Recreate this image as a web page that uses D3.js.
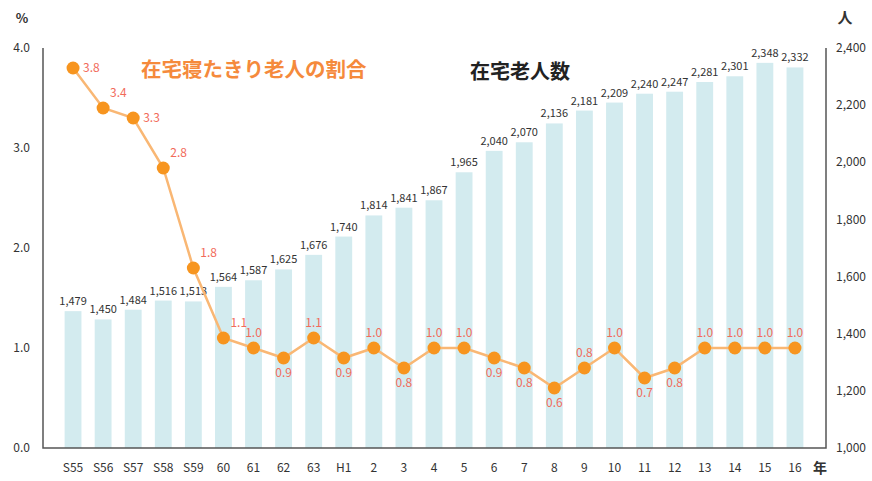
<!DOCTYPE html>
<html>
<head>
<meta charset="utf-8">
<script src="https://cdn.jsdelivr.net/npm/d3@7"></script>
<style>
  body { margin: 0; background: #fff; }
  svg { display: block; font-family: "Noto Sans CJK JP", "Noto Sans", sans-serif; }
</style>
</head>
<body>
<svg id="chart" width="872" height="481"></svg>
<script>
"use strict";

// 年 (Showa 55 .. Heisei 16)
const years = ['S55', 'S56', 'S57', 'S58', 'S59', '60', '61', '62', '63', 'H1',
  '2', '3', '4', '5', '6', '7', '8', '9', '10', '11', '12', '13', '14', '15', '16'];

// 在宅老人数 (人)
const elderly = [1479, 1450, 1484, 1516, 1513, 1564, 1587, 1625, 1676, 1740,
  1814, 1841, 1867, 1965, 2040, 2070, 2136, 2181, 2209, 2240, 2247, 2281, 2301, 2348, 2332];

// 在宅寝たきり老人の割合 (%)
const bedridden = [3.8, 3.4, 3.3, 2.8, 1.8, 1.1, 1.0, 0.9, 1.1, 0.9,
  1.0, 0.8, 1.0, 1.0, 0.9, 0.8, 0.6, 0.8, 1.0, 0.7, 0.8, 1.0, 1.0, 1.0, 1.0];

// where each % label sits relative to its point: r = right, a = above, b = below
const rateLabelPos = ['r', 'ar', 'r', 'ar', 'ar', 'ar', 'a', 'b', 'a', 'b',
  'a', 'b', 'a', 'a', 'b', 'b', 'b', 'a', 'a', 'b', 'b', 'a', 'a', 'a', 'a'];

const leftTicks = [0, 1, 2, 3, 4];
const rightTicks = [1000, 1200, 1400, 1600, 1800, 2000, 2200, 2400];

const svg = d3.select('#chart');

const plot = { left: 43, right: 826, top: 48, bottom: 448 };

const x = d3.scaleBand()
  .domain(years)
  .range([58, 810])
  .paddingInner(0.44)
  .paddingOuter(0.22);

const yRate = d3.scaleLinear().domain([0, 4]).range([plot.bottom, plot.top]);
const yCount = d3.scaleLinear().domain([1000, 2400]).range([plot.bottom, plot.top]);

const cx = (d) => x(d) + x.bandwidth() / 2;

// bars
svg.append('g').selectAll('rect')
  .data(years)
  .enter()
  .append('rect')
  .attr('x', (d) => x(d))
  .attr('y', (d, i) => yCount(elderly[i]))
  .attr('width', x.bandwidth())
  .attr('height', (d, i) => plot.bottom - yCount(elderly[i]))
  .attr('fill', '#d3ebef');

// bar value labels
const fmt = d3.format(',');
svg.append('g').selectAll('text')
  .data(years)
  .enter()
  .append('text')
  .attr('x', (d) => cx(d))
  .attr('y', (d, i) => yCount(elderly[i]) - 6)
  .attr('text-anchor', 'middle')
  .attr('font-size', 11)
  .attr('fill', '#333')
  .text((d, i) => fmt(elderly[i]));

// axes frame
const axisColor = '#555';
svg.append('path')
  .attr('d', 'M' + plot.left + ',' + plot.top + 'V' + plot.bottom + 'H' + plot.right + 'V' + plot.top)
  .attr('fill', 'none')
  .attr('stroke', axisColor)
  .attr('stroke-width', 1.5);

// left axis labels
svg.append('g').selectAll('text')
  .data(leftTicks)
  .enter()
  .append('text')
  .attr('x', 30)
  .attr('y', (d) => yRate(d))
  .attr('dy', '0.35em')
  .attr('text-anchor', 'end')
  .attr('font-size', 12)
  .attr('fill', '#333')
  .text((d) => d3.format('.1f')(d));

// right axis labels
svg.append('g').selectAll('text')
  .data(rightTicks)
  .enter()
  .append('text')
  .attr('x', 836)
  .attr('y', (d) => yCount(d))
  .attr('dy', '0.35em')
  .attr('text-anchor', 'start')
  .attr('font-size', 12)
  .attr('fill', '#333')
  .text((d) => fmt(d));

// x labels
svg.append('g').selectAll('text')
  .data(years)
  .enter()
  .append('text')
  .attr('x', (d) => cx(d))
  .attr('y', 468)
  .attr('dy', '0.35em')
  .attr('text-anchor', 'middle')
  .attr('font-size', 12)
  .attr('fill', '#333')
  .text((d) => d);

// units
svg.append('text').attr('x', 22).attr('y', 18).attr('dy', '0.35em')
  .attr('text-anchor', 'middle').attr('font-size', 13).attr('font-weight', 'bold')
  .attr('fill', '#333').text('%');
svg.append('text').attr('x', 845).attr('y', 18).attr('dy', '0.35em')
  .attr('text-anchor', 'middle').attr('font-size', 15).attr('font-weight', 'bold')
  .attr('fill', '#333').text('人');
svg.append('text').attr('x', 820).attr('y', 468).attr('dy', '0.35em')
  .attr('text-anchor', 'middle').attr('font-size', 14).attr('font-weight', 'bold')
  .attr('fill', '#333').text('年');

// series titles
svg.append('text').attr('x', 141).attr('y', 70).attr('dy', '0.35em')
  .attr('font-size', 20.5).attr('font-weight', 'bold')
  .attr('fill', '#f58a3c').text('在宅寝たきり老人の割合');
svg.append('text').attr('x', 470).attr('y', 72).attr('dy', '0.35em')
  .attr('font-size', 20).attr('font-weight', 'bold')
  .attr('fill', '#222').text('在宅老人数');

// rate line
const line = d3.line()
  .x((d, i) => cx(years[i]))
  .y((d) => yRate(d));

svg.append('path')
  .datum(bedridden)
  .attr('d', line)
  .attr('fill', 'none')
  .attr('stroke', '#f9b774')
  .attr('stroke-width', 2.5);

svg.append('g').selectAll('circle')
  .data(bedridden)
  .enter()
  .append('circle')
  .attr('cx', (d, i) => cx(years[i]))
  .attr('cy', (d) => yRate(d))
  .attr('r', 6.5)
  .attr('fill', '#f7951f');

svg.append('g').selectAll('text')
  .data(bedridden)
  .enter()
  .append('text')
  .attr('x', (d, i) => {
    const p = rateLabelPos[i];
    let dx = 0;
    if (p === 'r') dx = 10;
    if (p === 'ar') dx = 7;
    return cx(years[i]) + dx;
  })
  .attr('y', (d, i) => {
    const p = rateLabelPos[i];
    let dy = 0;
    if (p === 'a' || p === 'ar') dy = -15;
    if (p === 'b') dy = 15;
    return yRate(d) + dy;
  })
  .attr('dy', '0.35em')
  .attr('text-anchor', (d, i) => rateLabelPos[i] === 'a' || rateLabelPos[i] === 'b' ? 'middle' : 'start')
  .attr('font-size', 12)
  .attr('fill', '#f26b5b')
  .text((d) => d3.format('.1f')(d));
</script>
</body>
</html>
